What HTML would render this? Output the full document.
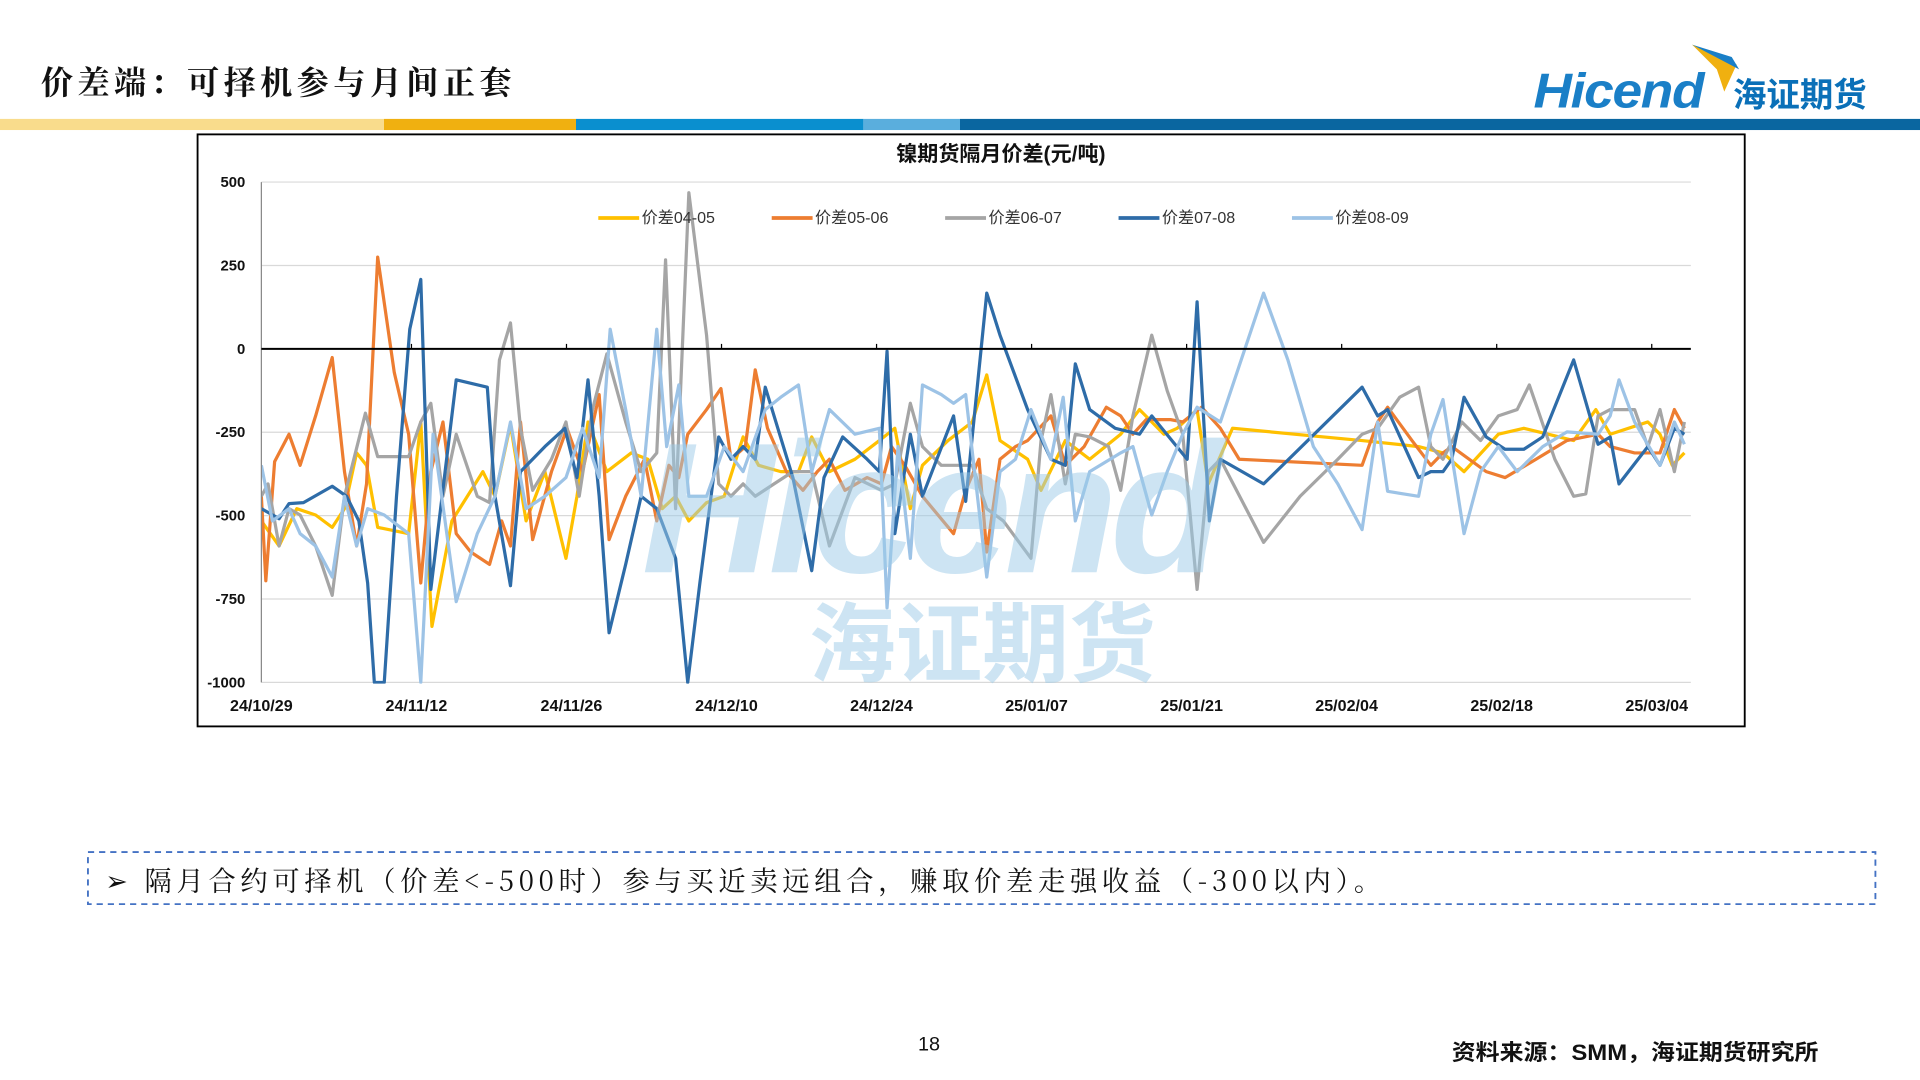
<!DOCTYPE html>
<html><head><meta charset="utf-8"><style>
html,body{margin:0;padding:0;background:#fff;width:1920px;height:1080px;overflow:hidden}
svg{display:block}
.cj{font-family:"Liberation Sans","Noto Sans CJK SC",sans-serif}
</style></head><body>
<svg id="page" width="1920" height="1080" viewBox="0 0 1550 872" preserveAspectRatio="none" xmlns="http://www.w3.org/2000/svg">
<text x="33" y="76" font-family="'Noto Serif CJK SC',serif" font-weight="bold" font-size="26" fill="#111" textLength="380" lengthAdjust="spacing">价差端：可择机参与月间正套</text>
<g>
<path d="M1366 36 L1402 52 L1392 74 L1386 56 Z" fill="#f0b010"/>
<path d="M1366 36 L1398 46 L1404 56 Z" fill="#1a7fc7"/>
<text x="1238" y="87" font-family="'Liberation Sans',sans-serif" font-style="italic" font-weight="bold" font-size="40" fill="#1a7fc7" letter-spacing="-1" textLength="137" lengthAdjust="spacingAndGlyphs">Hicend</text>
<text x="1399" y="86" class="cj" font-weight="bold" font-size="27" fill="#0a70b8">海证期货</text>
</g>
<g>
<rect x="0" y="96" width="310" height="9" fill="#f9dc8c"/>
<rect x="310" y="96" width="155" height="9" fill="#f0b010"/>
<rect x="465" y="96" width="232" height="9" fill="#0a8fcf"/>
<rect x="697" y="96" width="78" height="9" fill="#5aaedd"/>
<rect x="775" y="96" width="775" height="9" fill="#0a66a0"/>
</g>
<g id="chart">
<rect x="159.5" y="108.5" width="1249" height="478" fill="#fff" stroke="#000" stroke-width="1.5"/>
<text x="808" y="130" text-anchor="middle" class="cj" font-weight="bold" font-size="17" fill="#111">镍期货隔月价差(元/吨)</text>
<g id="grid"></g>
<g id="series"></g>
<g id="wm" opacity="0.5">
<text x="750" y="462" text-anchor="middle" font-family="'Liberation Sans',sans-serif" font-style="italic" font-weight="bold" font-size="150" fill="#9ccbe8" letter-spacing="-6">Hicend</text>
<text x="793" y="545" text-anchor="middle" class="cj" font-weight="bold" font-size="70" fill="#9ccbe8">海证期货</text>
</g>
<g id="axes"></g>
<g id="legend"></g>
</g>
<rect x="71" y="688" width="1443" height="42" fill="none" stroke="#4472c4" stroke-width="1.5" stroke-dasharray="5,4"/>
<text x="85" y="719" font-family="'Noto Serif CJK SC',serif" font-size="22" fill="#111" textLength="1030" lengthAdjust="spacing">➢ 隔月合约可择机（价差&lt;-500时）参与买近卖远组合，赚取价差走强收益（-300以内）。</text>
<text x="750" y="848" text-anchor="middle" font-family="'Liberation Sans',sans-serif" font-size="16" fill="#111">18</text>
<text x="1172" y="856" class="cj" font-weight="bold" font-size="18" fill="#111" textLength="296" lengthAdjust="spacingAndGlyphs">资料来源：SMM，海证期货研究所</text>
</svg>
<script>
const xLabels=["24/10/29","24/11/12","24/11/26","24/12/10","24/12/24","25/01/07","25/01/21","25/02/04","25/02/18","25/03/04"];
const yTicks=[500,250,0,-250,-500,-750,-1000];
const seriesNames=["价差04-05","价差05-06","价差06-07","价差07-08","价差08-09"];
const seriesColors=["#ffc000","#ed7d31","#a5a5a5","#2e6ca8","#9dc3e6"];
const days0405=[0,1.6,3.2,4.9,6.4,7.5,8.6,9.5,10.5,13.3,14.4,15.4,17.2,20,21.1,22.5,23.9,25.6,27.5,28.5,29.5,31.2,33.4,34.9,36.2,37.4,38.6,40.2,41.8,43.5,44.9,46.9,48.5,49.7,51.3,53.6,55.8,57.2,58.6,59.7,62,64.2,65.5,66.7,69.2,70.4,72.6,74.8,77.6,79.3,81.5,82.7,84.5,85.5,87.7,99.4,104.5,106.7,108.6,111.7,114,116.2,118.5,120.5,121.8,125.2,126.3,127.4,128.5];
const vals0405=[-516,-591,-479,-498,-535,-479,-312,-349,-535,-554,-219,-832,-516,-368,-442,-227,-516,-368,-628,-442,-219,-368,-312,-331,-479,-442,-516,-461,-442,-264,-349,-368,-368,-264,-368,-331,-275,-238,-479,-349,-275,-219,-78,-275,-331,-424,-275,-331,-256,-182,-256,-238,-182,-405,-238,-275,-293,-312,-368,-256,-238,-256,-275,-182,-256,-219,-256,-349,-312];
const days0506=[0,0.4,1.2,2.5,3.5,4.9,6.4,7.5,8.6,9.5,10.5,12,13.3,14.4,15.3,16.4,17.6,18.9,20.6,21.7,22.5,23.4,24.5,26.2,27.6,29,30.5,31.4,32.9,34.6,35.7,36.8,37.7,38.5,40.2,41.5,42.4,43.7,44.6,45.7,47.4,48.9,50.2,51.3,52.7,54.7,56,56.9,58.1,59.7,62.5,63.6,64.8,65.5,66.7,68.1,69.2,71.3,72.6,74.3,76.3,77.6,78.7,79.9,82.1,83.2,84.9,86.6,88.3,99.4,100.8,101.7,103.9,105.6,106.7,107.5,110.6,112.3,115.1,117.9,120.7,121.8,124,126.3,127.6,128.5];
const vals0506=[-442,-695,-338,-256,-349,-201,-26,-368,-591,-405,275,-71,-256,-702,-368,-219,-554,-609,-646,-516,-591,-219,-572,-368,-238,-368,-137,-572,-442,-331,-516,-349,-386,-256,-182,-119,-331,-293,-63,-238,-368,-424,-368,-331,-424,-386,-405,-293,-349,-442,-554,-424,-331,-609,-331,-293,-275,-201,-349,-293,-175,-201,-256,-212,-212,-219,-175,-238,-331,-349,-219,-175,-275,-349,-312,-293,-368,-386,-331,-275,-256,-293,-312,-312,-182,-238];
const days0607=[0,0.6,1.6,2.5,3.5,4.9,6.4,7.5,9.4,10.5,13.3,14.4,15.3,16.4,17.6,19.5,20.6,21.5,22.5,23.4,24.5,26.2,27.5,28.7,29.9,31.2,32.9,34.3,35.7,36.5,37.4,38.6,40.2,41.3,42.4,43.5,44.6,46.3,48,49.7,51.3,53.6,56,57.2,58.6,59.7,61.4,64.2,65.5,67,69.5,70.4,71.3,72.6,73.5,74.8,76.5,77.6,78.7,80.4,81.8,83.2,84.5,85.5,86.6,90.5,93.8,97.2,99.4,100.8,102.8,104.5,105.6,106.7,108.4,110.1,111.7,113.4,114.5,116.8,118.5,119.6,120.7,121.8,124,125.2,126.3,127.6,128.5];
const vals0607=[-442,-405,-591,-479,-498,-591,-739,-442,-193,-323,-323,-219,-163,-442,-256,-442,-461,-33,78,-238,-424,-331,-219,-442,-182,-15,-219,-368,-312,267,-479,468,41,-405,-442,-405,-442,-405,-368,-368,-591,-386,-424,-405,-163,-293,-349,-349,-479,-516,-628,-275,-137,-405,-256,-264,-293,-424,-201,41,-126,-256,-721,-368,-331,-580,-442,-331,-256,-238,-145,-115,-293,-331,-219,-275,-201,-182,-108,-331,-442,-435,-201,-182,-182,-293,-182,-368,-219];
const days0708=[0,1.6,2.5,3.8,6.4,7.7,8.8,9.6,10.2,11.1,12.2,13.4,14.4,15.3,17.6,20.4,21.1,22.5,23.4,25.6,27.4,28.5,29.5,30.5,31.4,32.9,34.3,35.7,37.4,38.5,39.6,41.3,42.4,43.5,44.6,45.5,48,49.7,50.8,52.5,54.7,55.8,56.5,57.2,58.6,59.7,62.5,63.6,65.5,66.7,69.2,71.3,72.6,73.5,74.8,77.1,79.3,80.4,83.6,84.5,85.6,86.6,90.5,99.4,100.8,101.7,104.5,105.6,106.7,107.5,108.6,110.6,112.3,114,115.7,118.5,120.7,121.8,122.6,125.2,126.3,127.6,128.5];
const vals0708=[-479,-509,-464,-461,-412,-442,-516,-702,-1000,-1000,-442,59,208,-721,-93,-115,-442,-710,-368,-293,-238,-386,-93,-442,-851,-646,-442,-479,-628,-1000,-702,-264,-331,-293,-331,-115,-386,-665,-386,-264,-331,-368,-7,-554,-256,-442,-201,-457,167,41,-182,-331,-349,-45,-182,-238,-256,-201,-331,141,-516,-331,-405,-115,-201,-182,-386,-368,-368,-331,-145,-264,-301,-301,-264,-33,-286,-264,-405,-293,-349,-238,-256];
const days0809=[0,1,2.5,3.5,4.9,6.4,7.5,8.6,9.6,11.1,13.3,14.4,15.5,17.6,19.5,21.1,22.5,23.9,25.6,27.5,29,30.5,31.5,32.9,34.3,35.7,36.6,37.7,38.6,40.2,41.8,43.5,45.5,46.9,48.5,49.7,51.3,53.6,55.8,56.5,57.5,58.6,59.7,61.4,62.5,63.6,65.5,66.7,68.1,69.5,71.3,72.4,73.5,74.8,77.6,78.7,80.4,81.8,83.2,84.5,86.6,90.5,92.7,95,97.2,99.4,100.8,101.7,104.5,105.6,106.7,108.6,110.1,111.7,113.4,115.7,117.9,120.7,121.8,122.6,124,126.3,127.6,128.5];
const vals0809=[-349,-516,-479,-554,-591,-684,-442,-591,-479,-498,-554,-1000,-256,-758,-554,-442,-219,-479,-442,-386,-238,-386,59,-182,-442,59,-293,-108,-442,-442,-293,-368,-182,-145,-108,-368,-182,-256,-238,-776,-293,-628,-108,-137,-163,-137,-684,-368,-331,-182,-331,-145,-516,-368,-312,-293,-498,-368,-256,-175,-219,167,-33,-293,-405,-542,-219,-427,-442,-256,-152,-554,-368,-293,-368,-293,-249,-256,-201,-93,-219,-349,-219,-286];
const seriesDays=[days0405,days0506,days0607,days0708,days0809];
const seriesVals=[vals0405,vals0506,vals0607,vals0708,vals0809];

const NS="http://www.w3.org/2000/svg";
const X0=211,X1=1365,Y0=147,Y1=551,DAYPX=8.94;
const yMax=500,yMin=-1000;
function xs(d){return X0+d*DAYPX;}
function ys(v){return Y0+(yMax-v)/(yMax-yMin)*(Y1-Y0);}
function mk(tag,attrs,parent){const e=document.createElementNS(NS,tag);for(const k in attrs)e.setAttribute(k,attrs[k]);parent.appendChild(e);return e;}

const grid=document.getElementById('grid'),axes=document.getElementById('axes'),ser=document.getElementById('series'),leg=document.getElementById('legend');
yTicks.forEach(v=>{
  if(v!==0){const g=mk('line',{x1:X0,x2:X1,y1:ys(v),y2:ys(v),stroke:'#d9d9d9','stroke-width':1},grid);
  
  }
  const t=mk('text',{x:198,y:ys(v)+4,'text-anchor':'end','font-family':'Liberation Sans,sans-serif','font-weight':'bold','font-size':12,fill:'#111'},axes);
  t.textContent=v;
  
  
});
const ya=mk('line',{x1:X0,x2:X0,y1:Y0,y2:Y1,stroke:'#888','stroke-width':1},axes);


const za=mk('line',{x1:X0,x2:X1,y1:ys(0),y2:ys(0),stroke:'#000','stroke-width':1.6},axes);


xLabels.forEach((l,i)=>{
  const x=xs(i*14);
  if(i>0){const tk=mk('line',{x1:x-4,x2:x-4,y1:ys(0)-4,y2:ys(0),stroke:'#000','stroke-width':1},axes);
  
  }
  const t=mk('text',{x:x,y:574,'text-anchor':'middle','font-family':'Liberation Sans,sans-serif','font-weight':'bold','font-size':13,fill:'#111'},axes);
  t.textContent=l;
  
  
});
const clip=mk('clipPath',{id:'plotclip'},ser);
mk('rect',{x:X0,y:Y0-5,width:X1-X0+5,height:Y1-Y0+6},clip);
seriesVals.forEach((vals,s)=>{
  const pts=vals.map((v,i)=>xs(seriesDays[s][i]).toFixed(1)+','+ys(v).toFixed(1)).join(' ');
  const p=mk('polyline',{points:pts,fill:'none',stroke:seriesColors[s],'stroke-width':2.6,'stroke-linejoin':'round','clip-path':'url(#plotclip)'},ser);
  
  
});
seriesNames.forEach((n,i)=>{
  const x=483+i*140;
  const g=mk('g',{},leg);
  
  
  mk('line',{x1:x,x2:x+33,y1:176,y2:176,stroke:seriesColors[i],'stroke-width':3},g);
  const t=mk('text',{x:x+35,y:180,'font-family':'Liberation Sans,Noto Sans CJK SC,sans-serif','font-size':13,fill:'#333'},g);
  t.textContent=n;
});
</script>
</body></html>
